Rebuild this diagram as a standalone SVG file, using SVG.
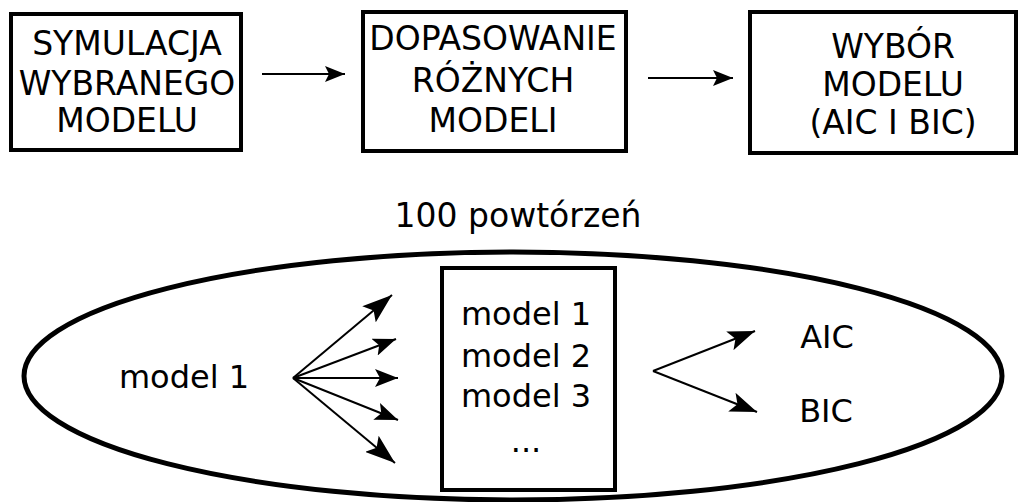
<svg xmlns="http://www.w3.org/2000/svg" width="1019" height="502" viewBox="0 0 1019 502">
  <style>
    .box { fill: #ffffff; stroke: #000000; stroke-width: 4; }
    .loop { fill: none; stroke: #000000; stroke-width: 5; }
    .lbl { font-family: "DejaVu Sans", "Liberation Sans", sans-serif; fill: #000000; text-anchor: middle; }
    .big { font-size: 33px; }
    .mid { font-size: 32px; }
    .edge { fill: none; stroke: #000000; stroke-width: 2; }
  </style>
  <defs>
    <marker id="headS" markerUnits="userSpaceOnUse" markerWidth="20" markerHeight="16" refX="20" refY="8" orient="auto">
      <path d="M0,0 L20,8 L0,16 L4,8 Z" fill="#000000"/>
    </marker>
    <marker id="headM" markerUnits="userSpaceOnUse" markerWidth="23" markerHeight="18" refX="23" refY="9" orient="auto">
      <path d="M0,0 L23,9 L0,18 L5,9 Z" fill="#000000"/>
    </marker>
    <marker id="headR" markerUnits="userSpaceOnUse" markerWidth="27" markerHeight="20" refX="27" refY="10" orient="auto">
      <path d="M0,0 L27,10 L0,20 L6,10 Z" fill="#000000"/>
    </marker>
    <marker id="headL" markerUnits="userSpaceOnUse" markerWidth="30" markerHeight="21" refX="30" refY="10.5" orient="auto">
      <path d="M0,0 L30,10.5 L0,21 L6,10.5 Z" fill="#000000"/>
    </marker>
  </defs>

  <!-- top row: pipeline steps -->
  <g id="step-simulate">
    <rect class="box" x="11" y="14" width="230" height="136"/>
    <text class="lbl big" x="127" y="55">SYMULACJA</text>
    <text class="lbl big" x="127" y="95">WYBRANEGO</text>
    <text class="lbl big" x="127" y="132">MODELU</text>
  </g>
  <g id="step-fit">
    <rect class="box" x="363" y="12" width="263" height="139"/>
    <text class="lbl big" x="493" y="50">DOPASOWANIE</text>
    <text class="lbl big" x="493" y="92">RÓŻNYCH</text>
    <text class="lbl big" x="493" y="132">MODELI</text>
  </g>
  <g id="step-select">
    <rect class="box" x="750" y="12" width="266" height="141"/>
    <text class="lbl big" x="893" y="58">WYBÓR</text>
    <text class="lbl big" x="893" y="96">MODELU</text>
    <text class="lbl big" x="893" y="134">(AIC I BIC)</text>
  </g>

  <!-- repetition loop -->
  <g id="loop">
    <text class="lbl big" x="518" y="227">100 powtórzeń</text>
    <ellipse class="loop" cx="513" cy="376" rx="489" ry="124"/>
  </g>
  <g id="source-model">
    <text class="lbl mid" x="184" y="388">model 1</text>
  </g>
  <g id="candidates">
    <rect class="box" x="442" y="268" width="173" height="222"/>
    <text class="lbl mid" x="526" y="325">model 1</text>
    <text class="lbl mid" x="526" y="367">model 2</text>
    <text class="lbl mid" x="526" y="407">model 3</text>
    <text class="lbl mid" x="526" y="452">...</text>
  </g>
  <g id="criterion-aic">
    <text class="lbl mid" x="827" y="348">AIC</text>
  </g>
  <g id="criterion-bic">
    <text class="lbl mid" x="826" y="422">BIC</text>
  </g>

  <!-- connectors -->
  <g id="connectors">
    <line class="edge" x1="262" y1="74" x2="345" y2="74" marker-end="url(#headS)"/>
    <line class="edge" x1="648" y1="78" x2="733" y2="78" marker-end="url(#headS)"/>

    <line class="edge" x1="293" y1="378" x2="392" y2="295" marker-end="url(#headL)"/>
    <line class="edge" x1="293" y1="378" x2="396" y2="339" marker-end="url(#headM)"/>
    <line class="edge" x1="293" y1="378" x2="398" y2="378" marker-end="url(#headM)"/>
    <line class="edge" x1="293" y1="378" x2="398" y2="420" marker-end="url(#headM)"/>
    <line class="edge" x1="293" y1="378" x2="395" y2="463" marker-end="url(#headL)"/>

    <line class="edge" x1="653" y1="371" x2="755" y2="331" marker-end="url(#headR)"/>
    <line class="edge" x1="653" y1="371" x2="757" y2="412" marker-end="url(#headR)"/>
  </g>
</svg>
